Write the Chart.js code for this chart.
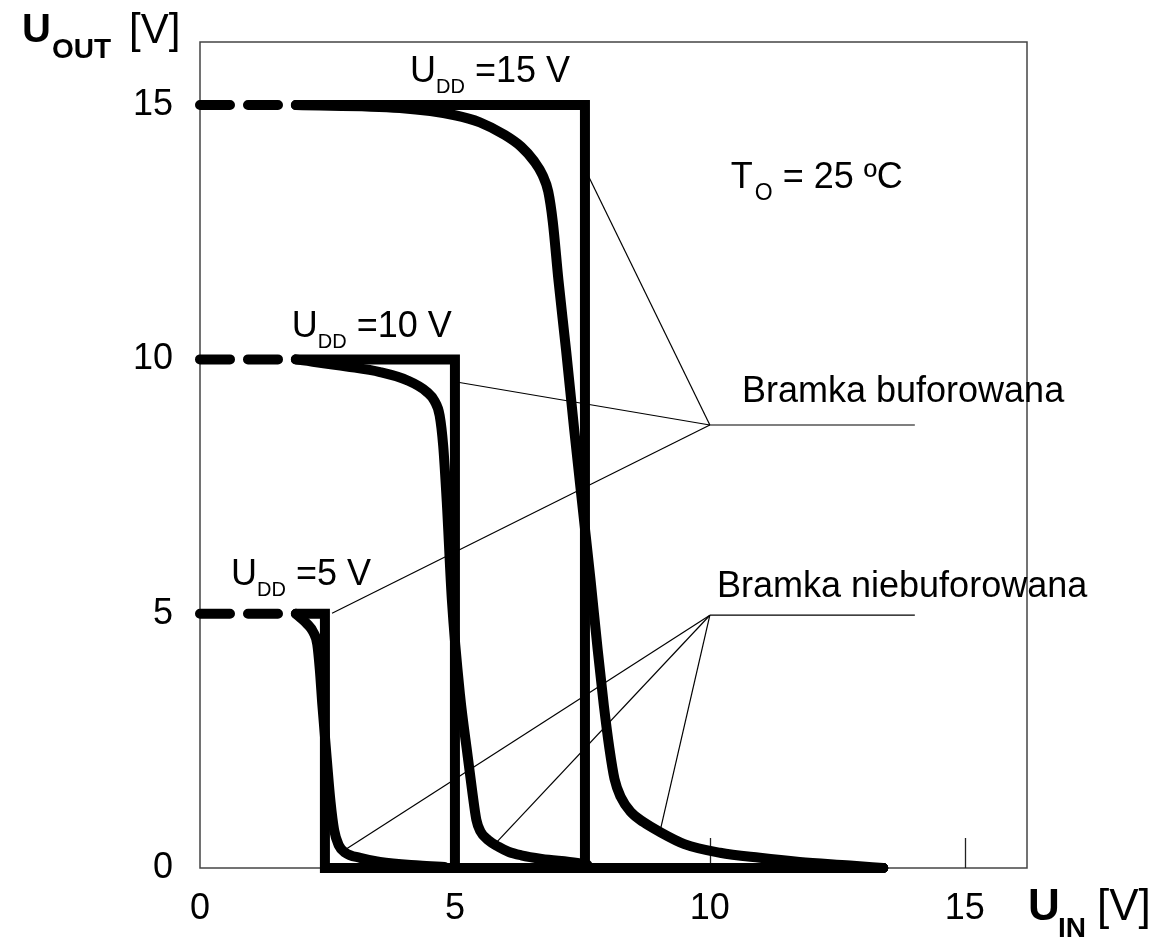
<!DOCTYPE html>
<html>
<head>
<meta charset="utf-8">
<script src="https://cdn.jsdelivr.net/npm/chart.js@4.4.1/dist/chart.umd.min.js"></script>
<style>
  html, body { margin: 0; padding: 0; background: #fff; }
  #wrap { width: 1160px; height: 940px; }
</style>
</head>
<body>
<div id="wrap"><canvas id="chart" width="1160" height="940"></canvas></div>
<script>
// axis ranges and ticks
const xMax = 16.22;
const yMax = 16.24;
const xTicks = [0, 5, 10, 15];
const yTicks = [0, 5, 10, 15];
const innerTicks = [5, 10, 15];

// supply levels (dashed lead-in up to dashEnd)
const uddLevels = [5, 10, 15];
const dashEnd = 1.88;

// buffered gate (ideal step)
const buf5X = [1.88, 2.45, 2.45, 13.4];
const buf5Y = [5, 5, 0, 0];
const buf10X = [1.88, 5.0, 5.0, 13.4];
const buf10Y = [10, 10, 0, 0];
const buf15X = [1.88, 7.55, 7.55, 13.4];
const buf15Y = [15, 15, 0, 0];

// unbuffered gate (soft transfer curve)
const unb5X = [1.88, 1.96, 2.1, 2.22, 2.3, 2.35, 2.4, 2.49, 2.56, 2.63, 2.72, 2.85, 3.14, 3.53, 4.3, 4.8];
const unb5Y = [5, 4.93, 4.8, 4.64, 4.4, 3.9, 3.2, 2.1, 1.3, 0.75, 0.45, 0.3, 0.2, 0.12, 0.05, 0.02];
const unb10X = [1.88, 2.88, 3.53, 4.06, 4.45, 4.6, 4.7, 4.77, 4.84, 4.94, 5.1, 5.25, 5.34, 5.42, 5.5, 5.65, 5.85, 6.05, 6.3, 6.7, 7.4, 7.6];
const unb10Y = [10, 9.86, 9.75, 9.59, 9.36, 9.18, 8.9, 8.3, 7.2, 5.27, 3.4, 2.2, 1.5, 0.95, 0.72, 0.55, 0.42, 0.32, 0.25, 0.18, 0.1, 0.06];
const unb15X = [1.88, 3.92, 5.0, 5.49, 5.98, 6.3, 6.55, 6.72, 6.83, 6.92, 7.03, 7.18, 7.34, 7.51, 7.66, 7.8, 7.92, 8.03, 8.13, 8.25, 8.45, 8.7, 9.0, 9.5, 10.2, 10.98, 11.76, 12.75, 13.4];
const unb15Y = [15, 14.94, 14.8, 14.66, 14.41, 14.18, 13.9, 13.62, 13.3, 12.7, 11.56, 10.18, 8.61, 7.04, 5.66, 4.29, 3.2, 2.35, 1.75, 1.4, 1.1, 0.9, 0.72, 0.47, 0.3, 0.2, 0.12, 0.05, 0];

// leader lines for the two captions
const bufHub = [10.0, 8.71];
const bufShelfEnd = 14.02;
const bufTargets = [[7.62, 13.6], [5.06, 9.55], [2.59, 5.01]];
const unbHub = [10.0, 4.97];
const unbShelfEnd = 14.02;
const unbTargets = [[2.8, 0.33], [5.82, 0.51], [9.02, 0.71]];

const FONT = '"Liberation Sans", Arial, sans-serif';

function pts(xs, ys) {
  return xs.map((x, i) => ({ x: x, y: ys[i] }));
}

function thick(data, extra) {
  return Object.assign({
    data: data,
    borderColor: '#000',
    borderWidth: 10,
    pointRadius: 0,
    tension: 0,
    fill: false,
    clip: false,
    borderCapStyle: 'round',
    borderJoinStyle: 'miter'
  }, extra || {});
}

function thin(data) {
  return {
    data: data,
    borderColor: '#000',
    borderWidth: 1.2,
    pointRadius: 0,
    tension: 0,
    fill: false,
    clip: false
  };
}

const datasets = [];

uddLevels.forEach(v => {
  datasets.push(thick([{ x: 0, y: v }, { x: dashEnd, y: v }], { borderDash: [30, 18] }));
});

datasets.push(thick(pts(buf5X, buf5Y)));
datasets.push(thick(pts(buf10X, buf10Y)));
datasets.push(thick(pts(buf15X, buf15Y)));

[[unb5X, unb5Y], [unb10X, unb10Y], [unb15X, unb15Y]].forEach(([xs, ys]) => {
  datasets.push(thick(pts(xs, ys), { cubicInterpolationMode: 'monotone', borderJoinStyle: 'round' }));
});

datasets.push(thin([{ x: bufHub[0], y: bufHub[1] }, { x: bufShelfEnd, y: bufHub[1] }]));
bufTargets.forEach(t => datasets.push(thin([{ x: t[0], y: t[1] }, { x: bufHub[0], y: bufHub[1] }])));
datasets.push(thin([{ x: unbHub[0], y: unbHub[1] }, { x: unbShelfEnd, y: unbHub[1] }]));
unbTargets.forEach(t => datasets.push(thin([{ x: t[0], y: t[1] }, { x: unbHub[0], y: unbHub[1] }])));

// draws runs of text one after another: [text, font, dy, gapBefore]
function rich(ctx, x, y, runs) {
  let cx = x;
  runs.forEach(([t, f, dy, gap]) => {
    cx += gap || 0;
    ctx.font = f;
    ctx.fillText(t, cx, y + (dy || 0));
    cx += ctx.measureText(t).width;
  });
}

const framePlugin = {
  id: 'frame',
  beforeDatasetsDraw(chart) {
    const { ctx, chartArea: a, scales: { x } } = chart;
    ctx.save();
    ctx.strokeStyle = '#444';
    ctx.lineWidth = 1.5;
    ctx.strokeRect(a.left, a.top, a.right - a.left, a.bottom - a.top);
    // small inward ticks on the U_IN axis
    ctx.strokeStyle = '#222';
    ctx.lineWidth = 1.3;
    innerTicks.forEach(v => {
      const px = Math.round(x.getPixelForValue(v)) + 0.5;
      ctx.beginPath();
      ctx.moveTo(px, a.bottom);
      ctx.lineTo(px, a.bottom - 30);
      ctx.stroke();
    });
    ctx.restore();
  },
  afterDraw(chart) {
    const { ctx, scales: { x, y } } = chart;
    ctx.save();
    ctx.fillStyle = '#000';
    ctx.textBaseline = 'alphabetic';
    ctx.textAlign = 'left';
    const big = '36px ' + FONT;
    const sub = '20px ' + FONT;

    rich(ctx, x.getPixelForValue(4.12), y.getPixelForValue(15.45), [['U', big], ['DD', sub, 11], [' =15 V', big]]);
    rich(ctx, x.getPixelForValue(1.8), y.getPixelForValue(10.44), [['U', big], ['DD', sub, 11], [' =10 V', big]]);
    rich(ctx, x.getPixelForValue(0.61), y.getPixelForValue(5.56), [['U', big], ['DD', sub, 11], [' =5 V', big]]);
    rich(ctx, x.getPixelForValue(10.41), y.getPixelForValue(13.37), [['T', big], ['O', '23px ' + FONT, 12, 2], [' = 25 ºC', big]]);

    ctx.font = big;
    ctx.fillText('Bramka buforowana', x.getPixelForValue(10.63), y.getPixelForValue(9.16));
    ctx.fillText('Bramka niebuforowana', x.getPixelForValue(10.14), y.getPixelForValue(5.33));

    // axis titles
    ctx.font = 'bold 40px ' + FONT;
    ctx.fillText('U', 22, 42);
    ctx.font = 'bold 28px ' + FONT;
    ctx.fillText('OUT', 52, 58);
    ctx.font = '42px ' + FONT;
    ctx.fillText('[V]', 129, 43);

    ctx.font = 'bold 44px ' + FONT;
    ctx.fillText('U', 1028, 920);
    ctx.font = 'bold 28px ' + FONT;
    ctx.fillText('IN', 1058, 937);
    ctx.font = '44px ' + FONT;
    ctx.fillText('[V]', 1097, 920);
    ctx.restore();
  }
};

new Chart(document.getElementById('chart'), {
  type: 'line',
  data: { datasets: datasets },
  plugins: [framePlugin],
  options: {
    responsive: false,
    devicePixelRatio: 1,
    animation: false,
    events: [],
    layout: { padding: { top: 42, right: 133, bottom: 0, left: 0 } },
    plugins: { legend: { display: false }, tooltip: { enabled: false } },
    scales: {
      x: {
        type: 'linear',
        min: 0,
        max: xMax,
        afterBuildTicks: s => { s.ticks = xTicks.map(v => ({ value: v })); },
        afterFit: s => { s.height = 72; s.paddingLeft = 0; s.paddingRight = 0; },
        grid: { display: false, drawTicks: false },
        border: { display: false },
        ticks: {
          color: '#000',
          font: { family: FONT, size: 36 },
          padding: 19,
          maxRotation: 0,
          autoSkip: false
        }
      },
      y: {
        type: 'linear',
        min: 0,
        max: yMax,
        afterBuildTicks: s => { s.ticks = yTicks.map(v => ({ value: v })); },
        afterFit: s => { s.width = 200; s.paddingTop = 0; s.paddingBottom = 0; },
        grid: { display: false, drawTicks: false },
        border: { display: false },
        ticks: {
          color: '#000',
          font: { family: FONT, size: 36 },
          padding: 27,
          autoSkip: false
        }
      }
    }
  }
});
</script>
</body>
</html>
